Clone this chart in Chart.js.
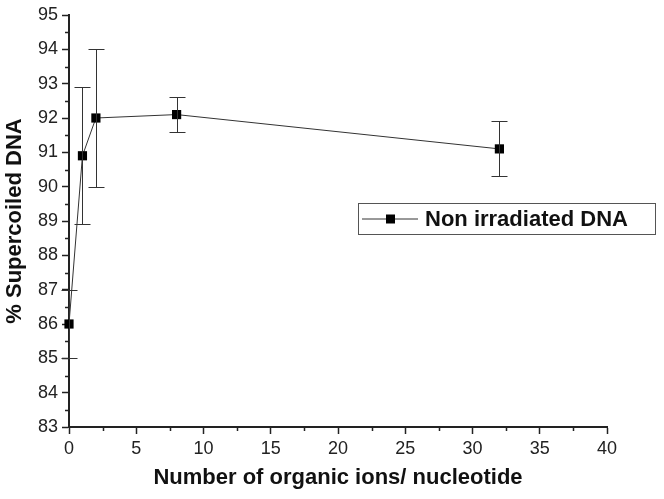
<!DOCTYPE html>
<html>
<head>
<meta charset="utf-8">
<script src="https://cdn.jsdelivr.net/npm/chart.js@4"></script>
<style>
  html, body { margin: 0; padding: 0; background: #fff; }
  #wrap { width: 664px; height: 499px; position: relative; }
</style>
</head>
<body>
<div id="wrap"><canvas id="chart"></canvas></div>
<script>
// Datos
const ionsPerNucleotide = [0, 1, 2, 8, 32];
const supercoiledPct = [86.0, 90.9, 92.0, 92.1, 91.1];
const errorPct = [1.0, 2.0, 2.0, 0.5, 0.8];
const seriesLabel = 'Non irradiated DNA';
const xTitle = 'Number of organic ions/ nucleotide';
const yTitle = '% Supercoiled DNA';

const axisColor = '#222';
const fontFam = "'Liberation Sans', Arial, Helvetica, sans-serif";

// Barras de error, ticks menores y leyenda dibujados con las escalas
const extras = {
    id: 'extras',
    afterDatasetsDraw(chart) {
        const ctx = chart.ctx;
        const xs = chart.scales.x, ys = chart.scales.y;
        ctx.save();
        ctx.strokeStyle = '#333';
        ctx.lineWidth = 1;
        ionsPerNucleotide.forEach((xv, i) => {
            const px = Math.round(xs.getPixelForValue(xv)) + 0.5;
            const top = Math.round(ys.getPixelForValue(supercoiledPct[i] + errorPct[i])) + 0.5;
            const bot = Math.round(ys.getPixelForValue(supercoiledPct[i] - errorPct[i])) + 0.5;
            ctx.beginPath();
            ctx.moveTo(px, top); ctx.lineTo(px, bot);
            ctx.moveTo(px - 8, top); ctx.lineTo(px + 8, top);
            ctx.moveTo(px - 8, bot); ctx.lineTo(px + 8, bot);
            ctx.stroke();
        });
        ctx.restore();
    },
    afterDraw(chart) {
        const ctx = chart.ctx;
        const xs = chart.scales.x, ys = chart.scales.y;
        const area = chart.chartArea;
        ctx.save();
        ctx.strokeStyle = axisColor;
        ctx.lineWidth = 1.5;
        ctx.beginPath();
        for (let v = 83.5; v < 95; v += 1) {
            const py = Math.round(ys.getPixelForValue(v)) + 0.5;
            ctx.moveTo(area.left, py); ctx.lineTo(area.left - 4, py);
        }
        for (let v = 2.5; v < 40; v += 5) {
            const px = Math.round(xs.getPixelForValue(v)) + 0.5;
            ctx.moveTo(px, area.bottom); ctx.lineTo(px, area.bottom + 4);
        }
        ctx.stroke();

        // leyenda
        const bx = 358, by = 203, bw = 297, bh = 31;
        ctx.lineWidth = 1;
        ctx.strokeStyle = '#555';
        ctx.fillStyle = '#fff';
        ctx.fillRect(bx, by, bw, bh);
        ctx.strokeRect(bx + 0.5, by + 0.5, bw, bh);
        const cy = by + bh / 2 + 0.5;
        ctx.strokeStyle = '#333';
        ctx.beginPath();
        ctx.moveTo(bx + 4, cy); ctx.lineTo(bx + 60, cy);
        ctx.stroke();
        ctx.fillStyle = '#000';
        ctx.fillRect(bx + 28, cy - 4.5, 9, 9);
        ctx.fillStyle = '#111';
        ctx.font = 'bold 22px ' + fontFam;
        ctx.textBaseline = 'middle';
        ctx.textAlign = 'left';
        ctx.fillText(seriesLabel, bx + 67, cy + 1);
        ctx.restore();
    }
};

new Chart(document.getElementById('chart'), {
    type: 'line',
    data: {
        datasets: [{
            label: seriesLabel,
            data: ionsPerNucleotide.map((x, i) => ({ x: x, y: supercoiledPct[i] })),
            borderColor: '#333',
            borderWidth: 1,
            pointStyle: 'rect',
            pointRadius: 6.5,
            pointBackgroundColor: '#000',
            pointBorderColor: '#000',
            pointBorderWidth: 0,
            tension: 0,
            clip: false
        }]
    },
    options: {
        responsive: true,
        maintainAspectRatio: false,
        animation: false,
        events: [],
        layout: { padding: { top: 15, right: 57, left: 0, bottom: 0 } },
        plugins: {
            legend: { display: false },
            tooltip: { enabled: false }
        },
        scales: {
            x: {
                type: 'linear',
                min: 0,
                max: 40,
                afterFit(scale) { scale.height = 72; },
                ticks: {
                    stepSize: 5,
                    color: '#222',
                    font: { family: fontFam, size: 18 },
                    padding: 4,
                    maxRotation: 0
                },
                grid: {
                    drawOnChartArea: false,
                    tickLength: 7,
                    tickWidth: 1.5,
                    tickColor: axisColor
                },
                border: { color: axisColor, width: 2 },
                title: {
                    display: true,
                    text: xTitle,
                    color: '#111',
                    font: { family: fontFam, size: 22, weight: 'bold' },
                    padding: { top: 0, bottom: 8 }
                }
            },
            y: {
                min: 83,
                max: 95,
                afterFit(scale) { scale.width = 69; },
                ticks: {
                    stepSize: 1,
                    color: '#222',
                    font: { family: fontFam, size: 18 },
                    padding: 4
                },
                grid: {
                    drawOnChartArea: false,
                    tickLength: 7,
                    tickWidth: 1.5,
                    tickColor: axisColor
                },
                border: { color: axisColor, width: 2 },
                title: {
                    display: true,
                    text: yTitle,
                    color: '#111',
                    font: { family: fontFam, size: 22, weight: 'bold' },
                    padding: { top: 2, bottom: 0 }
                }
            }
        }
    },
    plugins: [extras]
});
</script>
</body>
</html>
